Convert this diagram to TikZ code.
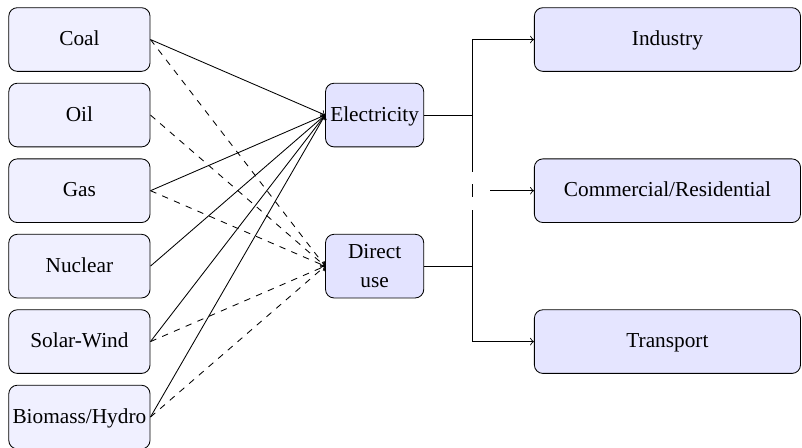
\documentclass[tikz,border=0pt]{standalone}
\usepackage{fontspec}
\setmainfont{Liberation Serif}
\usetikzlibrary{positioning}
\begin{document}
\begin{tikzpicture}[>=to,
	box/.style={draw,rounded corners=4pt,minimum height=1.05cm,align=center,inner sep=1pt},
	oneline/.style={text height=1.5ex,text depth=.25ex},
	src/.style={box,oneline,fill=blue!6,minimum width=2.33cm},
	hub/.style={box,fill=blue!11,minimum width=1.62cm},
	sector/.style={box,oneline,fill=blue!10,minimum width=4.39cm}]
	\useasboundingbox (0,0) rectangle (13.23,-7.39);
	\node[src] (coal) at (1.31,-0.652) {Coal};
	\node[src] (oil) at (1.31,-1.898) {Oil};
	\node[src] (gas) at (1.31,-3.146) {Gas};
	\node[src] (nuclear) at (1.31,-4.39) {Nuclear};
	\node[src] (solar) at (1.31,-5.635) {Solar-Wind};
	\node[src] (biomass) at (1.31,-6.88) {Biomass/Hydro};
	\node[hub,oneline] (elec) at (6.18,-1.898) {Electricity};
	\node[hub] (direct) at (6.18,-4.39) {Direct\\[2pt]use};
	\node[sector] (industry) at (11.01,-0.652) {Industry};
	\node[sector] (commercial) at (11.01,-3.146) {Commercial/Residential};
	\node[sector] (transport) at (11.01,-5.635) {Transport};
	\coordinate (jn) at (7.79,-3.146);
	\foreach \s in {coal,gas,nuclear,solar,biomass}
		\draw[->] (\s.east)--(elec.west);
	\foreach \s in {coal,oil,gas,solar,biomass}
		\draw[->,dashed] (\s.east)--(direct.west);
	\draw (elec.east)--(elec.east -| jn);
	\draw[->] (elec.east -| jn) |- (industry.west);
	\draw (elec.east -| jn)--([yshift=0.31cm]jn);
	\draw ([yshift=0.107cm]jn)--([yshift=-0.107cm]jn);
	\draw ([yshift=-0.32cm]jn)--(direct.east -| jn);
	\draw (direct.east)--(direct.east -| jn);
	\draw[->] (direct.east -| jn) |- (transport.west);
	\draw[->] ([xshift=0.3cm]jn)--(commercial.west);
\end{tikzpicture}
\end{document}
